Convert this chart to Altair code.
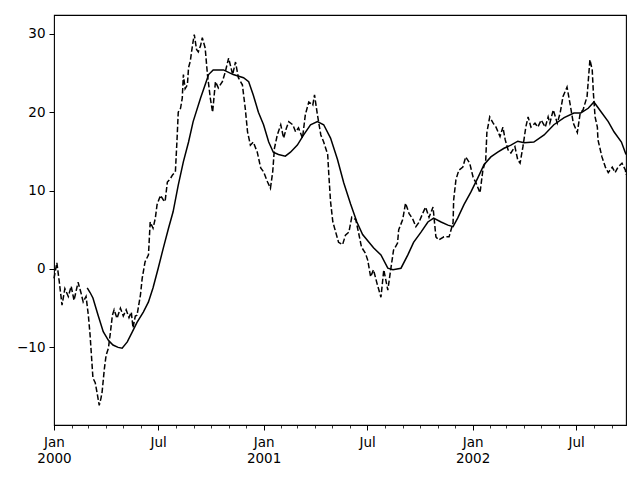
import altair as alt
import pandas as pd

# Day offsets from 2000-01-01 and values
dash_days = [0, 5, 9, 14, 19, 25, 30, 35, 42, 47, 51, 56, 60, 63, 68, 72, 75, 79, 82, 84,
             88, 91, 95, 98, 102, 105, 110, 116, 121, 126, 131, 135, 138, 142, 145, 151, 154, 159, 165, 168,
             173, 177, 180, 186, 191, 194, 198, 203, 207, 212, 215, 217, 221, 224, 226, 229, 233, 235, 238, 242,
             245, 249, 252, 256, 259, 264, 268, 273, 277, 282, 287, 294, 299, 305, 312, 317, 322, 329, 334, 338,
             343, 348, 355, 361, 366, 373, 378, 382, 385, 390, 396, 401, 406, 410, 417, 422, 427, 434, 439, 445,
             452, 455, 460, 466, 471, 478, 480, 483, 487, 492, 497, 504, 509, 515, 520, 527, 532, 537, 544, 548,
             553, 558, 564, 571, 576, 583, 588, 593, 600, 602, 609, 614, 620, 627, 632, 637, 644, 649, 655, 662,
             667, 672, 681, 690, 697, 698, 702, 707, 714, 719, 726, 732, 737, 744, 749, 754, 756, 761, 767, 772,
             779, 784, 788, 793, 798, 805, 810, 814, 819, 824, 828, 833, 840, 845, 851, 858, 863, 866, 872, 879,
             884, 889, 896, 901, 907, 914, 919, 924, 931, 936, 940, 942, 945, 949, 950, 957, 963, 968, 975, 980,
             985, 992, 998, 999]
dash_vals = [-1.2, 0.8, -1.5, -4.6, -2.5, -3.5, -2.2, -4.0, -1.7, -3.0, -4.2, -3.5, -5.9, -8.4, -13.9, -14.5, -15.7, -17.4, -16.5, -15.7,
             -12.7, -11.0, -10.1, -8.4, -5.9, -5.2, -6.3, -5.0, -6.0, -5.2, -6.2, -5.5, -7.5, -6.0, -5.9, -3.3, -1.2, 0.9, 1.8, 6.0,
             5.2, 6.5, 8.2, 9.4, 8.8, 8.6, 11.1, 11.5, 12.0, 12.4, 16.7, 20.0, 20.5, 21.8, 24.8, 23.0, 23.5, 25.7, 26.5, 28.6,
             29.9, 28.0, 27.7, 28.5, 29.5, 28.2, 24.8, 21.8, 20.0, 23.9, 23.1, 23.9, 25.1, 26.9, 24.8, 26.4, 24.4, 23.5, 20.5, 17.5,
             15.8, 16.2, 14.9, 12.9, 12.4, 11.1, 10.3, 12.4, 15.4, 17.1, 18.4, 16.7, 18.0, 18.8, 18.4, 17.5, 18.0, 16.7, 19.7, 21.3,
             20.9, 22.2, 19.7, 17.1, 16.2, 14.6, 12.0, 8.6, 6.0, 4.7, 3.4, 3.1, 4.3, 4.7, 6.6, 6.3, 4.6, 2.8, 2.0, 1.1,
             -1.0, -0.1, -1.8, -3.6, -0.1, -2.7, -0.1, 2.4, 3.3, 5.0, 6.3, 8.4, 7.1, 6.3, 5.4, 5.9, 7.1, 7.9, 6.6, 7.9,
             4.1, 3.7, 4.1, 4.1, 5.9, 8.8, 11.4, 12.6, 13.0, 14.3, 13.5, 11.7, 11.0, 9.7, 12.6, 13.9, 17.4, 19.4, 18.6, 18.1,
             16.9, 18.1, 16.5, 15.2, 14.8, 15.6, 13.9, 13.5, 15.6, 18.1, 19.4, 18.1, 18.6, 18.1, 19.0, 18.1, 19.4, 18.6, 20.3, 18.6,
             19.9, 22.0, 23.2, 21.2, 18.6, 17.4, 19.9, 20.3, 22.0, 26.7, 25.4, 22.5, 19.4, 18.1, 16.5, 14.3, 13.0, 12.3, 13.0, 12.3,
             13.0, 13.5, 12.6, 12.0]

roll_days = [58, 63, 68, 77, 86, 95, 103, 112, 119, 128, 137, 145, 156, 165, 173, 182, 191, 200, 208, 217,
             226, 235, 243, 256, 264, 270, 278, 296, 313, 331, 340, 348, 357, 366, 375, 383, 392, 404, 413, 425,
             436, 448, 460, 471, 483, 495, 506, 518, 529, 539, 558, 571, 583, 592, 606, 618, 628, 641, 653, 663,
             676, 688, 697, 705, 716, 728, 740, 751, 763, 775, 786, 798, 810, 821, 838, 856, 873, 891, 908, 920,
             933, 943, 956, 968, 978, 991, 999]
roll_vals = [-2.4, -3.0, -3.7, -5.9, -8.0, -9.1, -9.7, -10.0, -10.1, -9.3, -8.0, -6.8, -5.5, -4.2, -2.4, 0.1, 2.7, 5.2, 7.3, 10.7,
             13.7, 16.2, 18.8, 21.8, 23.5, 24.8, 25.4, 25.4, 24.8, 24.4, 23.9, 22.2, 20.0, 18.4, 16.2, 14.9, 14.6, 14.4, 14.9, 15.8,
             17.1, 18.4, 18.8, 18.4, 16.7, 14.0, 11.0, 8.3, 6.0, 4.4, 2.7, 1.8, 0.1, -0.1, 0.1, 1.8, 3.4, 4.7, 6.0, 6.5,
             6.0, 5.6, 5.4, 6.5, 8.2, 9.8, 11.6, 13.3, 14.3, 14.9, 15.4, 15.8, 16.3, 16.1, 16.2, 17.1, 18.4, 19.3, 19.9, 19.9,
             20.5, 21.3, 20.0, 18.8, 17.5, 16.2, 14.6]

y_ticks = [-10, 0, 10, 20, 30]
start = pd.Timestamp("2000-01-01")
end_day = 999


def to_ms(ts):
    return int(ts.value // 10**6)


dash_df = pd.DataFrame({
    "date": [(start + pd.Timedelta(days=d)).strftime("%Y-%m-%dT00:00:00Z") for d in dash_days],
    "value": dash_vals,
})
roll_df = pd.DataFrame({
    "date": [(start + pd.Timedelta(days=d)).strftime("%Y-%m-%dT00:00:00Z") for d in roll_days],
    "value": roll_vals,
})

months = pd.date_range("2000-01-01", "2002-09-01", freq="MS")
minor_vals = [to_ms(m) for m in months]
major_vals = [to_ms(m) for m in months if m.month in (1, 7)]
x_domain = [to_ms(start), to_ms(start + pd.Timedelta(days=end_day))]

xscale = alt.Scale(type="utc", domain=x_domain, nice=False)
yscale = alt.Scale(domain=[-19.9, 32.4], nice=False, zero=False)

font = "DejaVu Sans"

yaxis = alt.Axis(values=y_ticks, tickSize=5, tickColor="black", tickWidth=1, domain=False,
                 grid=False, labelFont=font, labelFontSize=13.5, labelColor="black",
                 labelPadding=4)

dashed = alt.Chart(dash_df).mark_line(
    color="black", strokeWidth=1.5, strokeDash=[5.5, 2.4]
).encode(
    x=alt.X("date:T", scale=xscale, title=None,
            axis=alt.Axis(values=major_vals, orient="bottom", tickSize=5, tickColor="black",
                          tickWidth=1, domain=False, grid=False, labelFont=font, labelFontSize=13.5,
                          labelColor="black", labelPadding=5, labelLineHeight=16, labelAngle=0,
                          labelAlign="center", labelBaseline="top", labelFlush=False, labelOverlap=False,
                          labelExpr="utcFormat(datum.value, '%m') == '01' ? ['Jan', utcFormat(datum.value, '%Y')] : 'Jul'")),
    y=alt.Y("value:Q", scale=yscale, title=None, axis=yaxis),
)

solid = alt.Chart(roll_df).mark_line(color="black", strokeWidth=1.5).encode(
    x=alt.X("date:T", scale=xscale, title=None,
            axis=alt.Axis(values=minor_vals, orient="bottom", tickSize=3, tickColor="black",
                          tickWidth=0.8, domain=False, grid=False, labels=False)),
    y=alt.Y("value:Q", scale=yscale, title=None, axis=yaxis),
)

chart = alt.layer(dashed, solid).resolve_axis(x="independent").resolve_scale(
    x="shared", y="shared"
).properties(
    width=572, height=410,
    autosize=alt.AutoSizeParams(type="none"),
    padding={"left": 46, "top": 7, "right": 6, "bottom": 47},
    background="white",
).configure_view(stroke="black", strokeWidth=1.1)

chart.save("out.html", embed_options={"renderer": "svg", "actions": False})
